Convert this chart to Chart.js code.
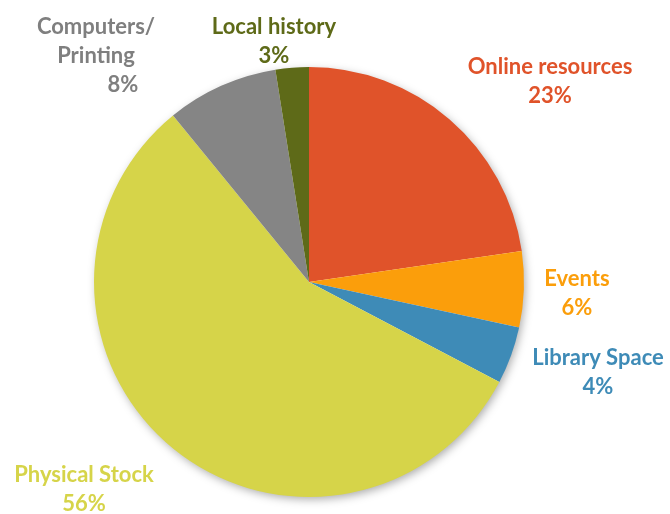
<!DOCTYPE html>
<html>
<head>
<meta charset="utf-8">
<script src="https://cdn.jsdelivr.net/npm/chart.js@4"></script>
<style>
  html, body { margin: 0; padding: 0; background: #fff; }
  #wrap { width: 670px; height: 514px; position: relative; }
</style>
</head>
<body>
<div id="wrap"><canvas id="chart"></canvas></div>
<script>
// data (clockwise from 12 o'clock)
const categories = ['Online resources', 'Events', 'Library Space', 'Physical Stock', 'Computers/Printing', 'Local history'];
const shares = [22.7, 5.7, 4.3, 56.4, 8.4, 2.5];
const sliceColors = ['#E0532A', '#FB9E0B', '#3E8BB7', '#D6D449', '#858585', '#5E6A18'];
const textColors  = ['#E0532A', '#FB9E0B', '#3E8BB7', '#D6D449', '#7F7F7F', '#5E6A18'];

// label blocks: lines + where to put them (offset from pie centre)
const labelLines = [
  ['Online resources'],
  ['Events'],
  ['Library Space'],
  ['Physical Stock'],
  ['Computers/', 'Printing'],
  ['Local history']
];
const labelAnchor = [
  { dx: 241, dy: -215, pdx: 0 },
  { dx: 268, dy: -3, pdx: 0 },
  { dx: 289, dy: 76, pdx: 0 },
  { dx: -225, dy: 193, pdx: 0 },
  { dx: -213, dy: -255, pdx: 27 },
  { dx: -35, dy: -255, pdx: 0 }
];
const LINE_H = 29;

const pieShadow = {
  id: 'pieShadow',
  beforeDatasetsDraw(chart) {
    const arc = chart.getDatasetMeta(0).data[0];
    if (!arc) return;
    const ctx = chart.ctx;
    ctx.save();
    ctx.shadowColor = 'rgba(0,0,0,0.35)';
    ctx.shadowBlur = 10;
    ctx.shadowOffsetX = 2;
    ctx.shadowOffsetY = 3;
    ctx.fillStyle = '#fff';
    ctx.beginPath();
    ctx.arc(arc.x, arc.y, arc.outerRadius - 1, 0, Math.PI * 2);
    ctx.fill();
    ctx.restore();
  }
};

const outsideLabels = {
  id: 'outsideLabels',
  afterDatasetsDraw(chart) {
    const meta = chart.getDatasetMeta(0);
    const ctx = chart.ctx;
    const cx = meta.data[0].x, cy = meta.data[0].y;
    ctx.save();
    ctx.font = 'bold 22px Lato, "Open Sans", sans-serif';
    ctx.textAlign = 'center';
    ctx.textBaseline = 'middle';
    categories.forEach((c, i) => {
      const a = labelAnchor[i];
      const lines = labelLines[i];
      ctx.fillStyle = textColors[i];
      let y = cy + a.dy;
      lines.forEach(l => {
        ctx.fillText(l, cx + a.dx, y);
        y += LINE_H;
      });
      ctx.fillText(Math.round(shares[i]) + '%', cx + a.dx + a.pdx, y);
    });
    ctx.restore();
  }
};

new Chart(document.getElementById('chart'), {
  type: 'pie',
  data: {
    labels: categories,
    datasets: [{
      data: shares,
      backgroundColor: sliceColors,
      borderWidth: 0
    }]
  },
  options: {
    responsive: true,
    maintainAspectRatio: false,
    animation: false,
    layout: { padding: { top: 67, bottom: 17, left: 94, right: 146 } },
    plugins: {
      legend: { display: false },
      tooltip: { enabled: false }
    }
  },
  plugins: [pieShadow, outsideLabels]
});
</script>
</body>
</html>
